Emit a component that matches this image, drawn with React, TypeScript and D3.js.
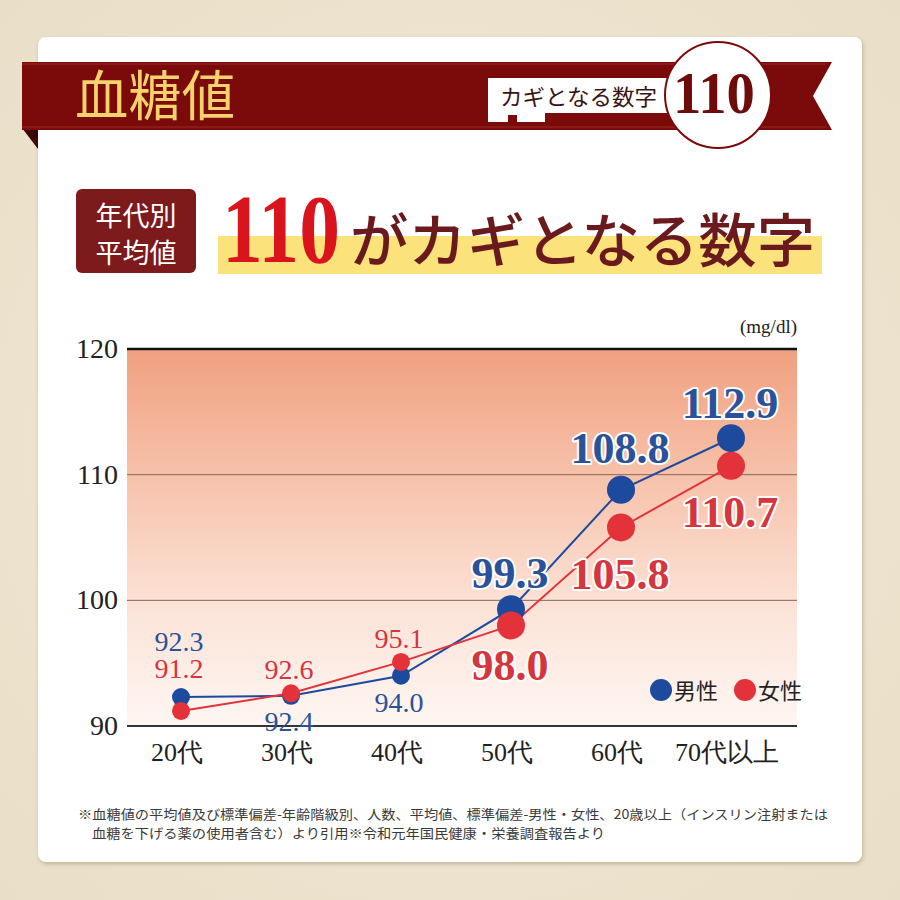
import React from "react";
import * as d3 from "d3";

const categories = ["20代", "30代", "40代", "50代", "60代", "70代以上"];
const maleValues = [92.3, 92.4, 94.0, 99.3, 108.8, 112.9];
const femaleValues = [91.2, 92.6, 95.1, 98.0, 105.8, 110.7];
const yTicks = [90, 100, 110, 120];
const seriesNames = ["男性", "女性"];
const unitLabel = "(mg/dl)";
const footnoteLines = [
  "※血糖値の平均値及び標準偏差-年齢階級別、人数、平均値、標準偏差-男性・女性、20歳以上（インスリン注射または",
  "血糖を下げる薬の使用者含む）より引用※令和元年国民健康・栄養調査報告より",
];

// layout: label offsets (dy from point) and emphasis per category index
const maleLabelDy = [-46, 35, 36, -21, -27, -20];
const femaleLabelDy = [-33, -14, -14, 55, 62, 61];
const bigFrom = 3;

const BLUE = "#1e4a9d";
const RED = "#e4323b";
const BLUE_TXT = "#2a5199";
const RED_TXT = "#d5353d";
const SERIF = "'Liberation Serif', 'DejaVu Serif', serif";
const CJK = "'Noto Sans CJK JP', 'Noto Sans', sans-serif";

export default function App() {
  const x = d3.scalePoint<string>().domain(categories).range([181, 731]);
  const y = d3.scaleLinear().domain([90, 120]).range([726, 349]);
  const left = 127;
  const right = 797;

  const line = d3
    .line<number>()
    .x((_, i) => x(categories[i]) as number)
    .y((d) => y(d));

  const series = [
    { name: seriesNames[0], values: maleValues, dy: maleLabelDy, color: BLUE, txt: BLUE_TXT },
    { name: seriesNames[1], values: femaleValues, dy: femaleLabelDy, color: RED, txt: RED_TXT },
  ];

  return (
    <svg width={900} height={900} style={{ position: "absolute", left: 0, top: 0 }}>
      <defs>
        <linearGradient id="plotGrad" x1="0" y1="0" x2="0" y2="1">
          <stop offset="0" stopColor="#f0a080" />
          <stop offset="0.35" stopColor="#f7c3ac" />
          <stop offset="0.7" stopColor="#fce4d9" />
          <stop offset="1" stopColor="#fef6f2" />
        </linearGradient>
        <radialGradient id="bgGrad" cx="0.5" cy="0.5" r="0.75">
          <stop offset="0" stopColor="#f3ead8" />
          <stop offset="1" stopColor="#e9dec7" />
        </radialGradient>
        <filter id="shadow" x="-5%" y="-5%" width="110%" height="110%">
          <feDropShadow dx="1" dy="2" stdDeviation="2" floodColor="#8a7a5a" floodOpacity="0.45" />
        </filter>
      </defs>

      {/* background */}
      <rect x={0} y={0} width={900} height={900} fill="url(#bgGrad)" />
      <rect x={38} y={37} width={824} height={825} rx={8} fill="#ffffff" filter="url(#shadow)" />

      {/* banner */}
      <polygon points="22,128 38,128 38,149" fill="#3d0505" />
      <polygon points="22,62 832,62 813,96 832,130 22,130" fill="#7b0a0a" />
      <line x1={22} y1={64} x2={826} y2={64} stroke="#9a2a22" strokeWidth={1} />
      <line x1={22} y1={127} x2={826} y2={127} stroke="#9a2a22" strokeWidth={1} />
      <text x={75} y={116} fontFamily={CJK} fontSize={54} fontWeight={400} fill="#f5d26b" textLength={160} lengthAdjust="spacingAndGlyphs">
        血糖値
      </text>
      <rect x={488} y={78} width={190} height={35} fill="#ffffff" />
      <rect x={488} y={112} width={57} height={10} fill="#ffffff" />
      <rect x={508} y={115} width={9} height={7} fill="#7b0a0a" />
      <text x={500} y={105} fontFamily={CJK} fontSize={22} fill="#3a1414" textLength={157} lengthAdjust="spacingAndGlyphs">
        カギとなる数字
      </text>
      <circle cx={718} cy={95} r={53} fill="#ffffff" stroke="#7b0a0a" strokeWidth={2} />
      <text x={673} y={113} fontFamily={SERIF} fontWeight="bold" fontSize={60} fill="#6e0b0b" textLength={82} lengthAdjust="spacingAndGlyphs">
        110
      </text>

      {/* title row */}
      <rect x={76} y={189} width={120} height={84} rx={6} fill="#7d1a1c" />
      <text x={136} y={226} textAnchor="middle" fontFamily={CJK} fontSize={27} fill="#ffffff">
        年代別
      </text>
      <text x={136} y={263} textAnchor="middle" fontFamily={CJK} fontSize={27} fill="#ffffff">
        平均値
      </text>
      <rect x={218} y={236} width={604} height={38} fill="#fbe27a" />
      <text x={222} y={262} fontFamily={SERIF} fontWeight="bold" fontSize={98} fill="#d9141c" textLength={118} lengthAdjust="spacingAndGlyphs">
        110
      </text>
      <text x={350} y={262} fontFamily={CJK} fontWeight={500} fontSize={58} fill="#6a1a1c" textLength={465} lengthAdjust="spacingAndGlyphs">
        がカギとなる数字
      </text>

      {/* plot area */}
      <rect x={left} y={y(120)} width={right - left} height={y(90) - y(120)} fill="url(#plotGrad)" />
      {yTicks
        .filter((t) => t !== 90 && t !== 120)
        .map((t) => (
          <line key={t} x1={left} x2={right} y1={y(t)} y2={y(t)} stroke="#8a6453" strokeWidth={1} />
        ))}
      <line x1={left} x2={right} y1={y(120)} y2={y(120)} stroke="#111" strokeWidth={2.5} />
      <line x1={left} x2={right} y1={y(90)} y2={y(90)} stroke="#333" strokeWidth={2} />
      {yTicks.map((t) => (
        <text key={t} x={118} y={y(t) + 9} textAnchor="end" fontFamily={SERIF} fontSize={28} fill="#222">
          {t}
        </text>
      ))}
      <text x={right} y={333} textAnchor="end" fontFamily={SERIF} fontSize={19} fill="#222">
        {unitLabel}
      </text>
      {categories.map((c) => (
        <text key={c} x={(x(c) as number) - 4} y={761} textAnchor="middle" fontFamily={SERIF} fontSize={26} fill="#222">
          {c}
        </text>
      ))}

      {/* lines */}
      {series.map((s) => (
        <path key={s.name} d={line(s.values) || ""} fill="none" stroke={s.color} strokeWidth={2} />
      ))}
      {/* points */}
      {series.map((s) =>
        s.values.map((v, i) => (
          <circle key={s.name + i} cx={x(categories[i]) as number} cy={y(v)} r={i >= bigFrom ? 14 : 9} fill={s.color} />
        ))
      )}
      {/* value labels */}
      {series.map((s) =>
        s.values.map((v, i) => {
          const big = i >= bigFrom;
          return (
            <text
              key={"l" + s.name + i}
              x={(x(categories[i]) as number) - (big ? 1 : 2)}
              y={y(v) + s.dy[i]}
              textAnchor="middle"
              fontFamily={SERIF}
              fontSize={big ? 44 : 28}
              fontWeight={big ? "bold" : "normal"}
              fill={s.txt}
              stroke={big ? "#ffffff" : "none"}
              strokeWidth={big ? 4 : 0}
              strokeLinejoin="round"
              paintOrder="stroke"
            >
              {v.toFixed(1)}
            </text>
          );
        })
      )}

      {/* legend */}
      <circle cx={661} cy={690} r={11} fill={BLUE} />
      <text x={674} y={699} fontFamily={CJK} fontSize={22} fill="#222">
        {seriesNames[0]}
      </text>
      <circle cx={745} cy={690} r={11} fill={RED} />
      <text x={758} y={699} fontFamily={CJK} fontSize={22} fill="#222">
        {seriesNames[1]}
      </text>

      {/* footnote */}
      <text x={78} y={819} fontFamily={CJK} fontSize={13} fill="#3a3a3a" textLength={750} lengthAdjust="spacingAndGlyphs">
        {footnoteLines[0]}
      </text>
      <text x={92} y={838} fontFamily={CJK} fontSize={13} fill="#3a3a3a" textLength={513} lengthAdjust="spacingAndGlyphs">
        {footnoteLines[1]}
      </text>
    </svg>
  );
}
